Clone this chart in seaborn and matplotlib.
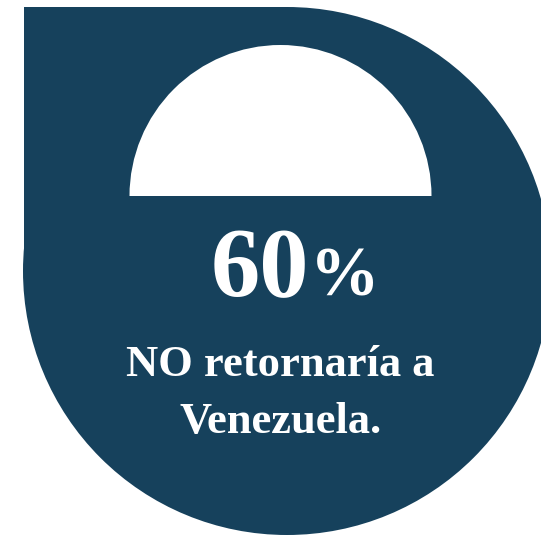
import matplotlib
matplotlib.use("Agg")
import matplotlib.pyplot as plt
from matplotlib.patches import Circle, Rectangle, Wedge
import seaborn as sns

# Data
value = [60]
value_suffix = ["%"]
label_lines = ["NO retornaría a", "Venezuela."]

sns.set_theme(style="white")
plt.rcParams["font.family"] = ["Liberation Serif", "DejaVu Serif"]

W, H = 541, 535
fig = plt.figure(figsize=(W / 100, H / 100), dpi=100)
ax = fig.add_axes([0, 0, 1, 1])
ax.set_xlim(0, W)
ax.set_ylim(H, 0)
ax.set_aspect("equal")
ax.axis("off")

blue = "#16415C"
cx, cy, r = 287, 271, 264
ax.add_patch(Circle((cx, cy), r, facecolor=blue, edgecolor="none"))
ax.add_patch(Rectangle((23.5, 6.7), cx - 23.5, cy - 6.7, facecolor=blue, edgecolor="none"))
ax.add_patch(Wedge((280.5, 196), 151, 180, 360, facecolor="white", edgecolor="none"))

ax.text(259.5, 296, f"{value[0]}", color="white", fontsize=71, fontweight="bold",
        ha="center", va="baseline")
ax.text(310, 296, value_suffix[0], color="white", fontsize=50, fontweight="bold",
        ha="left", va="baseline")
ax.text(280, 376.5, label_lines[0], color="white", fontsize=32, fontweight="bold",
        ha="center", va="baseline")
ax.text(281, 433, label_lines[1], color="white", fontsize=32, fontweight="bold",
        ha="center", va="baseline")

sns.despine(left=True, bottom=True)
fig.savefig("out.png", dpi=100, facecolor="white")
